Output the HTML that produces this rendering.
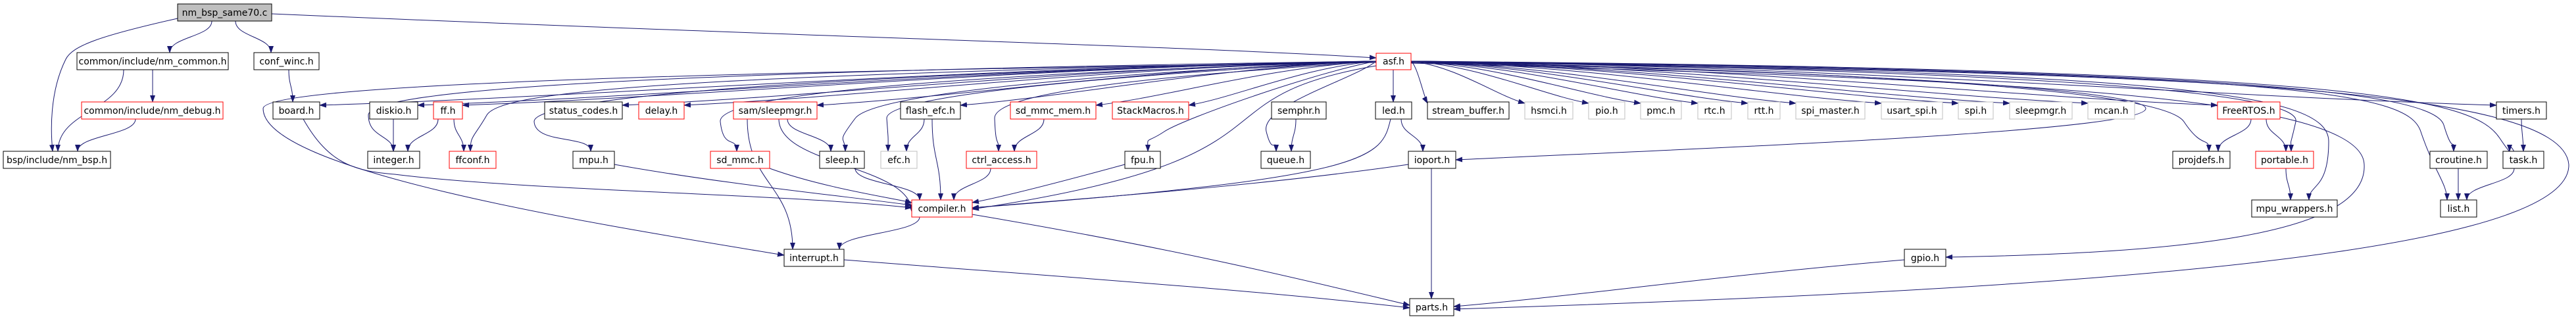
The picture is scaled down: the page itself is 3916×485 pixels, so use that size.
<!DOCTYPE html>
<html><head><meta charset="utf-8"><style>
html,body{margin:0;padding:0;background:#fff;width:3916px;height:485px;overflow:hidden}
svg{display:block}
text{font-family:"DejaVu Sans","Liberation Sans",sans-serif;font-size:14px;fill:#000}
</style></head><body>
<svg id="g" width="3916" height="485" xmlns="http://www.w3.org/2000/svg">
<defs><marker id="a" markerWidth="11" markerHeight="8" refX="10" refY="4" orient="auto" markerUnits="userSpaceOnUse"><path d="M0,0 L11,4 L0,8 z" fill="#191970"/></marker></defs>
<g id="edges" fill="none" stroke="#191970" stroke-width="1"></g>
<g id="nodes">
<rect x="270" y="6" width="143" height="26" fill="#bfbfbf" stroke="#000"/><text x="341.5" y="24" text-anchor="middle">nm_bsp_same70.c</text>
<rect x="117" y="80" width="230" height="26" fill="#fff" stroke="#000"/><text x="232" y="98" text-anchor="middle">common/include/nm_common.h</text>
<rect x="386" y="80" width="99" height="26" fill="#fff" stroke="#000"/><text x="435.5" y="98" text-anchor="middle">conf_winc.h</text>
<rect x="2092" y="81" width="53" height="25" fill="#fff" stroke="#f00"/><text x="2118.5" y="98" text-anchor="middle">asf.h</text>
<rect x="124" y="155" width="215" height="26" fill="#fff" stroke="#f00"/><text x="231.5" y="173" text-anchor="middle">common/include/nm_debug.h</text>
<rect x="415" y="155" width="71" height="26" fill="#fff" stroke="#000"/><text x="450.5" y="173" text-anchor="middle">board.h</text>
<rect x="562" y="155" width="73" height="26" fill="#fff" stroke="#000"/><text x="598.5" y="173" text-anchor="middle">diskio.h</text>
<rect x="659" y="155" width="44" height="26" fill="#fff" stroke="#f00"/><text x="681" y="173" text-anchor="middle">ff.h</text>
<rect x="828" y="155" width="118" height="26" fill="#fff" stroke="#000"/><text x="887" y="173" text-anchor="middle">status_codes.h</text>
<rect x="971" y="155" width="69" height="26" fill="#fff" stroke="#f00"/><text x="1005.5" y="173" text-anchor="middle">delay.h</text>
<rect x="1115" y="155" width="127" height="26" fill="#fff" stroke="#f00"/><text x="1178.5" y="173" text-anchor="middle">sam/sleepmgr.h</text>
<rect x="1369" y="155" width="91" height="26" fill="#fff" stroke="#000"/><text x="1414.5" y="173" text-anchor="middle">flash_efc.h</text>
<rect x="1536" y="155" width="130" height="26" fill="#fff" stroke="#f00"/><text x="1601" y="173" text-anchor="middle">sd_mmc_mem.h</text>
<rect x="1691" y="155" width="116" height="26" fill="#fff" stroke="#f00"/><text x="1749" y="173" text-anchor="middle">StackMacros.h</text>
<rect x="1933" y="155" width="83" height="26" fill="#fff" stroke="#000"/><text x="1974.5" y="173" text-anchor="middle">semphr.h</text>
<rect x="2091" y="155" width="55" height="26" fill="#fff" stroke="#000"/><text x="2118.5" y="173" text-anchor="middle">led.h</text>
<rect x="2170" y="155" width="124" height="26" fill="#fff" stroke="#000"/><text x="2232" y="173" text-anchor="middle">stream_buffer.h</text>
<rect x="2318" y="155" width="73" height="26" fill="#fff" stroke="#bfbfbf"/><text x="2354.5" y="173" text-anchor="middle">hsmci.h</text>
<rect x="2415" y="155" width="55" height="26" fill="#fff" stroke="#bfbfbf"/><text x="2442.5" y="173" text-anchor="middle">pio.h</text>
<rect x="2494" y="155" width="62" height="26" fill="#fff" stroke="#bfbfbf"/><text x="2525" y="173" text-anchor="middle">pmc.h</text>
<rect x="2581" y="155" width="51" height="26" fill="#fff" stroke="#bfbfbf"/><text x="2606.5" y="173" text-anchor="middle">rtc.h</text>
<rect x="2657" y="155" width="49" height="26" fill="#fff" stroke="#bfbfbf"/><text x="2681.5" y="173" text-anchor="middle">rtt.h</text>
<rect x="2730" y="155" width="105" height="26" fill="#fff" stroke="#bfbfbf"/><text x="2782.5" y="173" text-anchor="middle">spi_master.h</text>
<rect x="2860" y="155" width="93" height="26" fill="#fff" stroke="#bfbfbf"/><text x="2906.5" y="173" text-anchor="middle">usart_spi.h</text>
<rect x="2977" y="155" width="53" height="26" fill="#fff" stroke="#bfbfbf"/><text x="3003.5" y="173" text-anchor="middle">spi.h</text>
<rect x="3055" y="155" width="95" height="26" fill="#fff" stroke="#bfbfbf"/><text x="3102.5" y="173" text-anchor="middle">sleepmgr.h</text>
<rect x="3174" y="155" width="71" height="26" fill="#fff" stroke="#bfbfbf"/><text x="3209.5" y="173" text-anchor="middle">mcan.h</text>
<rect x="3371" y="155" width="95" height="26" fill="#fff" stroke="#f00"/><text x="3418.5" y="173" text-anchor="middle">FreeRTOS.h</text>
<rect x="3795" y="155" width="76" height="26" fill="#fff" stroke="#000"/><text x="3833" y="173" text-anchor="middle">timers.h</text>
<rect x="5" y="230" width="163" height="26" fill="#fff" stroke="#000"/><text x="86.5" y="248" text-anchor="middle">bsp/include/nm_bsp.h</text>
<rect x="559" y="230" width="79" height="26" fill="#fff" stroke="#000"/><text x="598.5" y="248" text-anchor="middle">integer.h</text>
<rect x="683" y="230" width="71" height="26" fill="#fff" stroke="#f00"/><text x="718.5" y="248" text-anchor="middle">ffconf.h</text>
<rect x="871" y="230" width="63" height="26" fill="#fff" stroke="#000"/><text x="902.5" y="248" text-anchor="middle">mpu.h</text>
<rect x="1080" y="230" width="90" height="26" fill="#fff" stroke="#f00"/><text x="1125" y="248" text-anchor="middle">sd_mmc.h</text>
<rect x="1246" y="230" width="68" height="26" fill="#fff" stroke="#000"/><text x="1280" y="248" text-anchor="middle">sleep.h</text>
<rect x="1339" y="230" width="55" height="26" fill="#fff" stroke="#bfbfbf"/><text x="1366.5" y="248" text-anchor="middle">efc.h</text>
<rect x="1469" y="230" width="107" height="26" fill="#fff" stroke="#f00"/><text x="1522.5" y="248" text-anchor="middle">ctrl_access.h</text>
<rect x="1710" y="230" width="54" height="26" fill="#fff" stroke="#000"/><text x="1737" y="248" text-anchor="middle">fpu.h</text>
<rect x="1917" y="230" width="75" height="26" fill="#fff" stroke="#000"/><text x="1954.5" y="248" text-anchor="middle">queue.h</text>
<rect x="2141" y="230" width="72" height="26" fill="#fff" stroke="#000"/><text x="2177" y="248" text-anchor="middle">ioport.h</text>
<rect x="3303" y="230" width="87" height="26" fill="#fff" stroke="#000"/><text x="3346.5" y="248" text-anchor="middle">projdefs.h</text>
<rect x="3429" y="230" width="88" height="26" fill="#fff" stroke="#f00"/><text x="3473" y="248" text-anchor="middle">portable.h</text>
<rect x="3694" y="230" width="87" height="26" fill="#fff" stroke="#000"/><text x="3737.5" y="248" text-anchor="middle">croutine.h</text>
<rect x="3805" y="230" width="62" height="26" fill="#fff" stroke="#000"/><text x="3836" y="248" text-anchor="middle">task.h</text>
<rect x="1386" y="304" width="92" height="26" fill="#fff" stroke="#f00"/><text x="1432" y="322" text-anchor="middle">compiler.h</text>
<rect x="3423" y="304" width="130" height="26" fill="#fff" stroke="#000"/><text x="3488" y="322" text-anchor="middle">mpu_wrappers.h</text>
<rect x="3710" y="304" width="55" height="26" fill="#fff" stroke="#000"/><text x="3737.5" y="322" text-anchor="middle">list.h</text>
<rect x="1192" y="379" width="91" height="26" fill="#fff" stroke="#000"/><text x="1237.5" y="397" text-anchor="middle">interrupt.h</text>
<rect x="2895" y="379" width="63" height="26" fill="#fff" stroke="#000"/><text x="2926.5" y="397" text-anchor="middle">gpio.h</text>
<rect x="2143" y="454" width="67" height="26" fill="#fff" stroke="#000"/><text x="2176.5" y="472" text-anchor="middle">parts.h</text>
</g>
</svg>
<script>
var E=document.getElementById('edges');
function p(d){var e=document.createElementNS('http://www.w3.org/2000/svg','path');e.setAttribute('d',d);e.setAttribute('marker-end','url(#a)');E.insertBefore(e,E.firstChild);}
var S=[[322,32,258,80],[358,32,412,80],[188,106,88,230],[232,106,232,155],[206,181,118,230],
[439,106,445,155],[598,181,598,230],[666,181,620,230],[690,181,705,230],
[1136,181,1205,379],[1184,181,1386,322],[1197,181,1263,230],[1300,256,1398,304],
[1405,181,1378,230],[1417,181,1430,304],[1587,181,1542,230],[1506,256,1450,304],
[1970,181,1963,230],[2130,181,2163,230],[2176,256,2176,454],
[1398,330,1276,379],[3422,181,3372,230],[3445,181,3475,230],[3475,256,3482,304],[3833,181,3836,230],[3737,256,3737,304],[3822,256,3750,304]];
S.forEach(function(s){var my=(s[1]+s[3])/2;p('M'+s[0]+','+s[1]+' C'+s[0]+','+my+' '+s[2]+','+my+' '+s[2]+','+s[3]);});
p('M270,28 C150,55 110,70 100,90 C75,140 77,200 80,230');
p('M461,181 C500,250 540,260 600,265 C800,290 1200,295 1386,316');
p('M934,250 C1100,280 1300,300 1386,312');
p('M1170,256 C1250,285 1350,300 1386,308');
p('M1710,250 C1600,280 1520,300 1478,308');
p('M2141,250 C1900,285 1600,305 1478,316');
p('M2114,181 C2100,240 2090,270 1478,316');
p('M1478,326 C1800,380 2000,430 2143,464');
p('M1283,395 C1600,420 1900,440 2143,468');
p('M2895,395 C2600,420 2400,450 2210,466');
p('M413,21 C1200,55 1800,70 2092,88');
function f(tx,ty,c){p('M'+(tx<2118?2092:2145)+',93 '+c+' '+tx+','+ty);}
[[486,160],[635,160],[703,160],[946,160],[1040,160],[1242,160],[1460,160],[1666,160],[1807,160]].forEach(function(t){
 var sx=2092,sy=93;f(t[0],t[1],'C'+(sx-(sx-t[0])*0.4)+','+(sy+10)+' '+(t[0]+(sx-t[0])*0.25)+','+(t[1]-12));});
[[2170,157],[2318,157],[2415,157],[2494,157],[2581,157],[2657,157],[2730,157],[2860,157],[2977,157],[3055,157],[3174,157],[3371,160],[3795,160]].forEach(function(t){
 var sx=2145,sy=93;f(t[0],t[1],'C'+(sx+(t[0]-sx)*0.4)+','+(sy+8)+' '+(t[0]-(t[0]-sx)*0.25)+','+(t[1]-12));});
p('M2118,106 L2118,155');
var L=[[598,230,'C900,110 560,140 560,175'],[715,230,'C1000,115 760,140 740,175'],[898,230,'C1200,115 810,150 812,185'],
[1120,230,'C1500,112 1090,140 1095,185'],[1285,230,'C1700,110 1330,140 1300,180'],[1350,230,'C1800,108 1345,140 1348,180'],
[1518,230,'C1900,108 1510,130 1512,180'],[1745,230,'C2000,110 1800,180 1770,200'],[1940,230,'C2060,120 1915,160 1925,200']];
function seg(sx,l){return 'M'+sx+',93 '+l[2]+' S'+l[0]+','+(l[1]-25)+' '+l[0]+','+l[1];}
L.forEach(function(l){p(seg(2092,l));});
p('M2092,95 C1000,110 400,130 400,165 C400,260 900,340 1192,388');
p('M2092,100 C1800,150 2000,240 1478,318');
var R=[[3358,230,'C2900,110 3290,140 3320,185'],[3483,230,'C3100,108 3500,140 3490,185'],[3510,304,'C3300,110 3540,140 3540,215'],
[3720,304,'C3500,110 3660,140 3680,200'],[3730,230,'C3400,105 3700,140 3715,190'],[3815,230,'C3600,105 3760,150 3800,210']];
R.forEach(function(r){p(seg(2145,r));});
p('M2145,95 C2900,110 3262,140 3262,165 C3262,200 2600,225 2213,243');
p('M2145,96 C3000,120 3590,140 3594,250 C3600,360 3300,385 2958,391');
p('M2145,94 C3300,110 3895,130 3905,250 C3910,400 3000,445 2210,470');
</script>
</body></html>
